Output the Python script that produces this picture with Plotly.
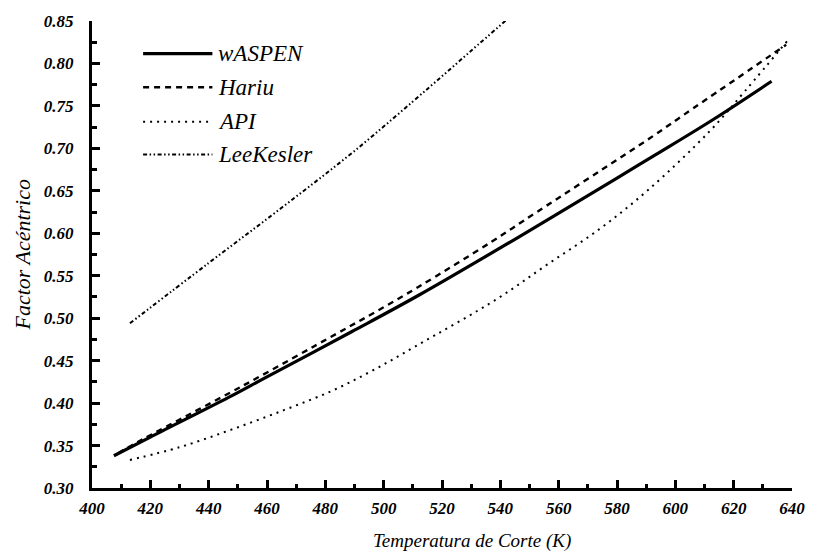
import plotly.graph_objects as go

# Factor acéntrico vs temperatura de corte, four correlations
t_waspen = [407.5, 420, 447, 459.5, 489, 512, 546, 580, 593, 613, 633]
w_waspen = [0.338, 0.360, 0.407, 0.430, 0.484, 0.527, 0.595, 0.665, 0.692, 0.734, 0.779]

t_hariu = [409, 414, 451.5, 484, 497, 512, 537, 552.5, 582, 593, 601, 638]
w_hariu = [0.341, 0.351, 0.420, 0.482, 0.507, 0.537, 0.590, 0.625, 0.691, 0.716, 0.735, 0.822]

t_api = [413, 430, 448, 466, 482, 496, 511, 539, 556, 574, 591, 612, 624, 639]
w_api = [0.333, 0.348, 0.369, 0.392, 0.414, 0.438, 0.467, 0.523, 0.563, 0.605, 0.652, 0.721, 0.768, 0.829]

t_lk = [413, 440, 465, 490, 516, 530, 542]
w_lk = [0.494, 0.565, 0.630, 0.697, 0.773, 0.815, 0.851]

series = [
    ("wASPEN", t_waspen, w_waspen, "solid", 3.2),
    ("Hariu", t_hariu, w_hariu, "6px,5px", 2.4),
    ("API", t_api, w_api, "2px,5px", 2.0),
    ("LeeKesler", t_lk, w_lk, "4px,2.5px,1.5px,2.5px,1.5px,2.5px", 2.0),
]

x_ticks = list(range(400, 641, 20))
y_ticks = [round(0.30 + 0.05 * i, 2) for i in range(12)]

FONT = "Liberation Serif"

fig = go.Figure()
for name, xs, ys, dash, width in series:
    fig.add_trace(go.Scatter(
        x=xs, y=ys, mode="lines", name=name,
        line=dict(color="black", width=width, dash=dash, shape="spline", smoothing=1.0),
        showlegend=False,
    ))

# legend drawn as line samples and labels in the upper-left corner
legend_rows = [0.930, 0.858, 0.784, 0.714]
for (name, _, _, dash, width), yr in zip(series, legend_rows):
    fig.add_shape(type="line", xref="paper", yref="paper",
                  x0=0.073, x1=0.172, y0=yr, y1=yr,
                  line=dict(color="black", width=width, dash=dash))
    fig.add_annotation(xref="paper", yref="paper", x=0.177, y=yr,
                       text=name, showarrow=False, xanchor="left", yanchor="middle",
                       font=dict(family=FONT, size=23, style="italic", color="black"))

fig.add_annotation(xref="paper", yref="paper", x=0.543, y=-0.113,
                   text="Temperatura de Corte (K)", showarrow=False,
                   xanchor="center", yanchor="middle",
                   font=dict(family=FONT, size=19, style="italic", color="black"))
fig.add_annotation(xref="paper", yref="paper", x=-0.100, y=0.5,
                   text="Factor Acéntrico", showarrow=False, textangle=-90,
                   xanchor="center", yanchor="middle",
                   font=dict(family=FONT, size=22, style="italic", color="black"))

tick_font = dict(family=FONT, size=17, style="italic", weight="bold", color="black")

fig.update_xaxes(
    range=[400, 640], tickvals=x_ticks, ticktext=[str(v) for v in x_ticks],
    showgrid=False, zeroline=False, showline=True, linecolor="black", linewidth=3,
    ticks="inside", ticklen=8, tickwidth=2.5, tickcolor="black",
    minor=dict(dtick=10, tick0=400, ticks="inside", ticklen=4, tickwidth=2.5, tickcolor="black"),
    tickfont=tick_font, ticklabelstandoff=3,
)
fig.update_yaxes(
    range=[0.30, 0.85], tickvals=y_ticks, ticktext=[f"{v:.2f}" for v in y_ticks],
    showgrid=False, zeroline=False, showline=True, linecolor="black", linewidth=3,
    ticks="inside", ticklen=8, tickwidth=2.5, tickcolor="black",
    minor=dict(dtick=0.025, tick0=0.30, ticks="inside", ticklen=5, tickwidth=2.5, tickcolor="black"),
    tickfont=tick_font, ticklabelstandoff=12,
)

fig.update_layout(
    width=817, height=555,
    margin=dict(l=92, r=20, t=16, b=67),
    paper_bgcolor="white", plot_bgcolor="white",
    showlegend=False,
)

fig.write_html("out.html")
